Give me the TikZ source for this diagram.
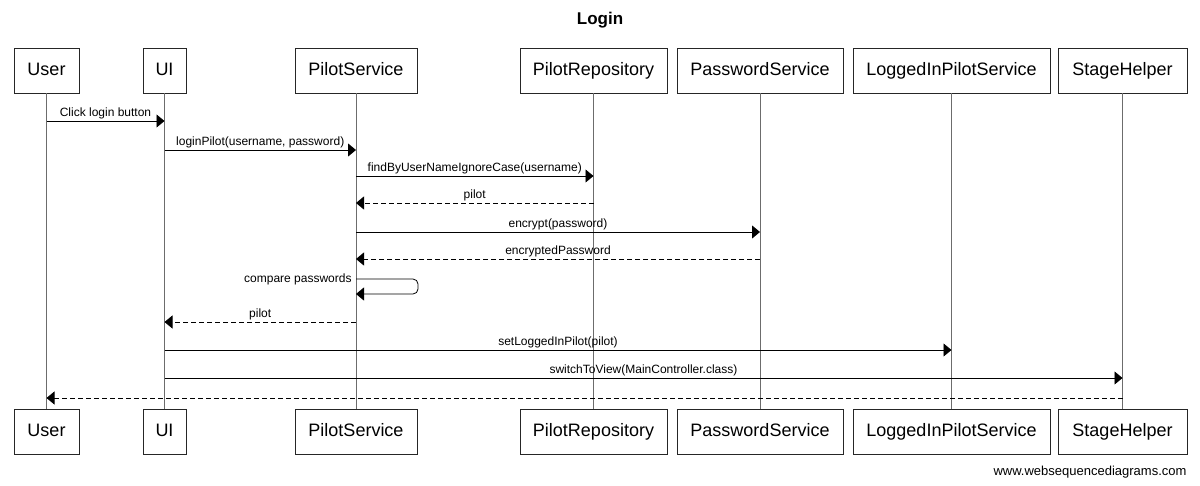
\documentclass[tikz,border=0pt]{standalone}
\usepackage{fontspec}
\setmainfont{Liberation Sans}
\usetikzlibrary{arrows.meta}

\tikzset{
  actor/.style={draw=black!85,line width=0.8pt,fill=white,minimum height=45pt,inner sep=0pt,
    text height=13pt,text depth=4pt,font=\fontsize{18}{20}\selectfont},
  life/.style={gray!85!black,line width=0.8pt},
  msg/.style={black,line width=0.8pt,-{Triangle[length=8pt,width=13pt]}},
  ret/.style={msg,dash pattern=on 5pt off 3pt},
  lbl/.style={midway,above,inner sep=1.5pt,font=\fontsize{12}{14}\selectfont}
}

\begin{document}
\begin{tikzpicture}[x=1pt,y=-1pt]
    \useasboundingbox (0,0) rectangle (1200,485);
    \node[font=\bfseries\fontsize{17}{19}\selectfont] (title) at (600,20) {Login};
    % participants, top and bottom, with their lifelines
    \foreach \n/\x/\w/\t in {user/46.5/65/User,ui/164.5/43/UI,ps/356/122/PilotService,pr/593.5/147/PilotRepository,pws/760/166/PasswordService,lips/951.5/197/LoggedInPilotService,sh/1122.5/129/StageHelper}{
      \node[actor,minimum width=\w] (\n) at (\x,70.5) {\t};
      \node[actor,minimum width=\w] (\n b) at (\x,431.5) {\t};
      \draw[life] (\n) -- (\n b);
    }
    \draw[msg] (user |- 0,121) -- (ui |- 0,121) node[lbl] {Click login button};
    \draw[msg] (ui |- 0,150) -- (ps |- 0,150) node[lbl] {loginPilot(username, password)};
    \draw[msg] (ps |- 0,176) -- (pr |- 0,176) node[lbl] {findByUserNameIgnoreCase(username)};
    \draw[ret] (pr |- 0,203) -- (ps |- 0,203) node[lbl] {pilot};
    \draw[msg] (ps |- 0,232) -- (pws |- 0,232) node[lbl] {encrypt(password)};
    \draw[ret] (pws |- 0,259) -- (ps |- 0,259) node[lbl] {encryptedPassword};
    \draw[msg,rounded corners=5pt] (ps |- 0,279) node[left,inner sep=4pt,font=\fontsize{12}{14}\selectfont] {compare passwords}
      -- (418,279) -- (418,294) -- (ps |- 0,294);
    \draw[ret] (ps |- 0,322) -- (ui |- 0,322) node[lbl] {pilot};
    \draw[msg] (ui |- 0,350) -- (lips |- 0,350) node[lbl] {setLoggedInPilot(pilot)};
    \draw[msg] (ui |- 0,378) -- (sh |- 0,378) node[lbl] {switchToView(MainController.class)};
    \draw[ret] (sh |- 0,398) -- (user |- 0,398);
    \node[anchor=east,font=\fontsize{13}{15}\selectfont] (footer) at (1190,472) {www.websequencediagrams.com};
\end{tikzpicture}
\end{document}
